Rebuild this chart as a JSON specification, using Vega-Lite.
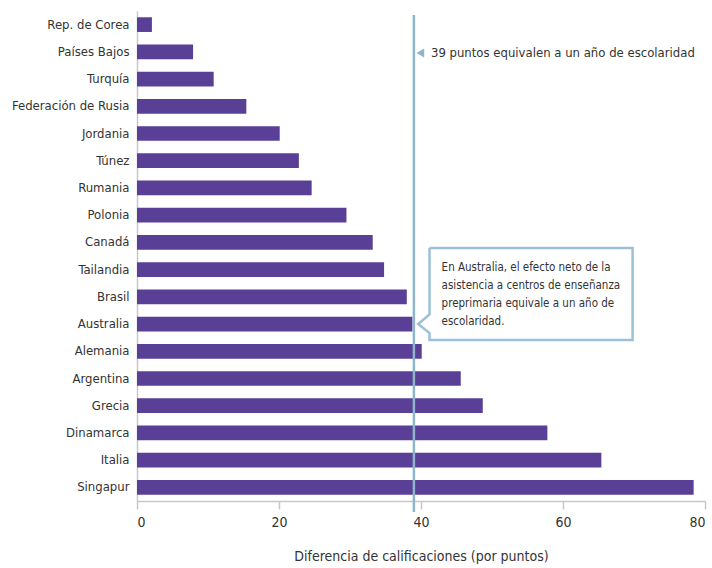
{
  "$schema": "https://vega.github.io/schema/vega-lite/v6.json",
  "width": 568,
  "height": 490,
  "autosize": "none",
  "padding": {"left": 137, "top": 11, "right": 7, "bottom": 67},
  "background": "white",
  "config": {
    "view": {"stroke": null},
    "font": "DejaVu Sans Condensed, Roboto",
    "axis": {"labelColor": "#333333", "titleColor": "#333333", "domainColor": "#c8c8c8", "tickColor": "#c8c8c8", "grid": false, "labelFont": "DejaVu Sans Condensed, Roboto", "titleFont": "DejaVu Sans Condensed, Roboto"}
  },
  "layer": [
    {
      "data": {"values": [
        {"pais": "Rep. de Corea", "valor": 2.1},
        {"pais": "Países Bajos", "valor": 7.9},
        {"pais": "Turquía", "valor": 10.8},
        {"pais": "Federación de Rusia", "valor": 15.4},
        {"pais": "Jordania", "valor": 20.1},
        {"pais": "Túnez", "valor": 22.8},
        {"pais": "Rumania", "valor": 24.6},
        {"pais": "Polonia", "valor": 29.5},
        {"pais": "Canadá", "valor": 33.2},
        {"pais": "Tailandia", "valor": 34.8},
        {"pais": "Brasil", "valor": 38.0},
        {"pais": "Australia", "valor": 38.8},
        {"pais": "Alemania", "valor": 40.1},
        {"pais": "Argentina", "valor": 45.6},
        {"pais": "Grecia", "valor": 48.7},
        {"pais": "Dinamarca", "valor": 57.8},
        {"pais": "Italia", "valor": 65.4},
        {"pais": "Singapur", "valor": 78.4}
      ]},
      "mark": {"type": "bar", "color": "#5a3f97"},
      "encoding": {
        "y": {"field": "pais", "type": "nominal", "sort": null,
          "scale": {"paddingInner": 0.46, "paddingOuter": 0.23},
          "axis": {"title": null, "ticks": false, "labelPadding": 8, "labelFontSize": 13, "domainWidth": 1.5}},
        "x": {"field": "valor", "type": "quantitative",
          "scale": {"domain": [0, 80], "nice": false},
          "axis": {"values": [0, 20, 40, 60, 80], "title": "Diferencia de calificaciones (por puntos)", "tickSize": 8, "labelPadding": 6, "labelFontSize": 14, "titleFontSize": 14, "titleFontWeight": "normal", "titlePadding": 20, "domainWidth": 1.5, "tickWidth": 1.5}}
      }
    },
    {
      "data": {"values": [{"x": 39, "y": 0.15, "y2": 18.4}]},
      "mark": {"type": "rule", "color": "#8fb5cc", "strokeWidth": 2.5},
      "encoding": {
        "x": {"field": "x", "type": "quantitative"},
        "y": {"field": "y", "type": "quantitative", "scale": {"domain": [0, 18], "reverse": true, "nice": false, "zero": false}, "axis": null},
        "y2": {"field": "y2"}
      }
    },
    {
      "data": {"values": [
        {"o": 1, "x": 41.2, "y": 8.71},
        {"o": 2, "x": 69.8, "y": 8.71},
        {"o": 3, "x": 69.8, "y": 12.09},
        {"o": 4, "x": 41.2, "y": 12.09},
        {"o": 5, "x": 41.2, "y": 11.83},
        {"o": 6, "x": 39.6, "y": 11.5},
        {"o": 7, "x": 41.2, "y": 11.15},
        {"o": 8, "x": 41.2, "y": 8.71}
      ]},
      "mark": {"type": "line", "color": "#9cc1d6", "strokeWidth": 2.5, "strokeJoin": "miter"},
      "encoding": {
        "x": {"field": "x", "type": "quantitative"},
        "y": {"field": "y", "type": "quantitative", "scale": {"domain": [0, 18], "reverse": true, "nice": false, "zero": false}, "axis": null},
        "order": {"field": "o"}
      }
    },
    {
      "data": {"values": [{"x": 39.9, "y": 1.54}]},
      "mark": {"type": "point", "shape": "triangle-left", "filled": true, "size": 80, "color": "#8fb5cc", "opacity": 1},
      "encoding": {
        "x": {"field": "x", "type": "quantitative"},
        "y": {"field": "y", "type": "quantitative", "scale": {"domain": [0, 18], "reverse": true, "nice": false, "zero": false}, "axis": null}
      }
    },
    {
      "data": {"values": [{"x": 41.4, "y": 1.54, "t": "39 puntos equivalen a un año de escolaridad"}]},
      "mark": {"type": "text", "align": "left", "baseline": "middle", "fontSize": 13, "color": "#333333"},
      "encoding": {
        "x": {"field": "x", "type": "quantitative"},
        "y": {"field": "y", "type": "quantitative", "scale": {"domain": [0, 18], "reverse": true, "nice": false, "zero": false}, "axis": null},
        "text": {"field": "t"}
      }
    },
    {
      "data": {"values": [
        {"x": 42.9, "y": 9.44, "t": "En Australia, el efecto neto de la"},
        {"x": 42.9, "y": 10.1, "t": "asistencia a centros de enseñanza"},
        {"x": 42.9, "y": 10.76, "t": "preprimaria equivale a un año de"},
        {"x": 42.9, "y": 11.42, "t": "escolaridad."}
      ]},
      "mark": {"type": "text", "align": "left", "baseline": "middle", "fontSize": 11.5, "color": "#333333"},
      "encoding": {
        "x": {"field": "x", "type": "quantitative"},
        "y": {"field": "y", "type": "quantitative", "scale": {"domain": [0, 18], "reverse": true, "nice": false, "zero": false}, "axis": null},
        "text": {"field": "t"}
      }
    }
  ],
  "resolve": {"scale": {"y": "independent"}, "axis": {"y": "independent"}}
}
